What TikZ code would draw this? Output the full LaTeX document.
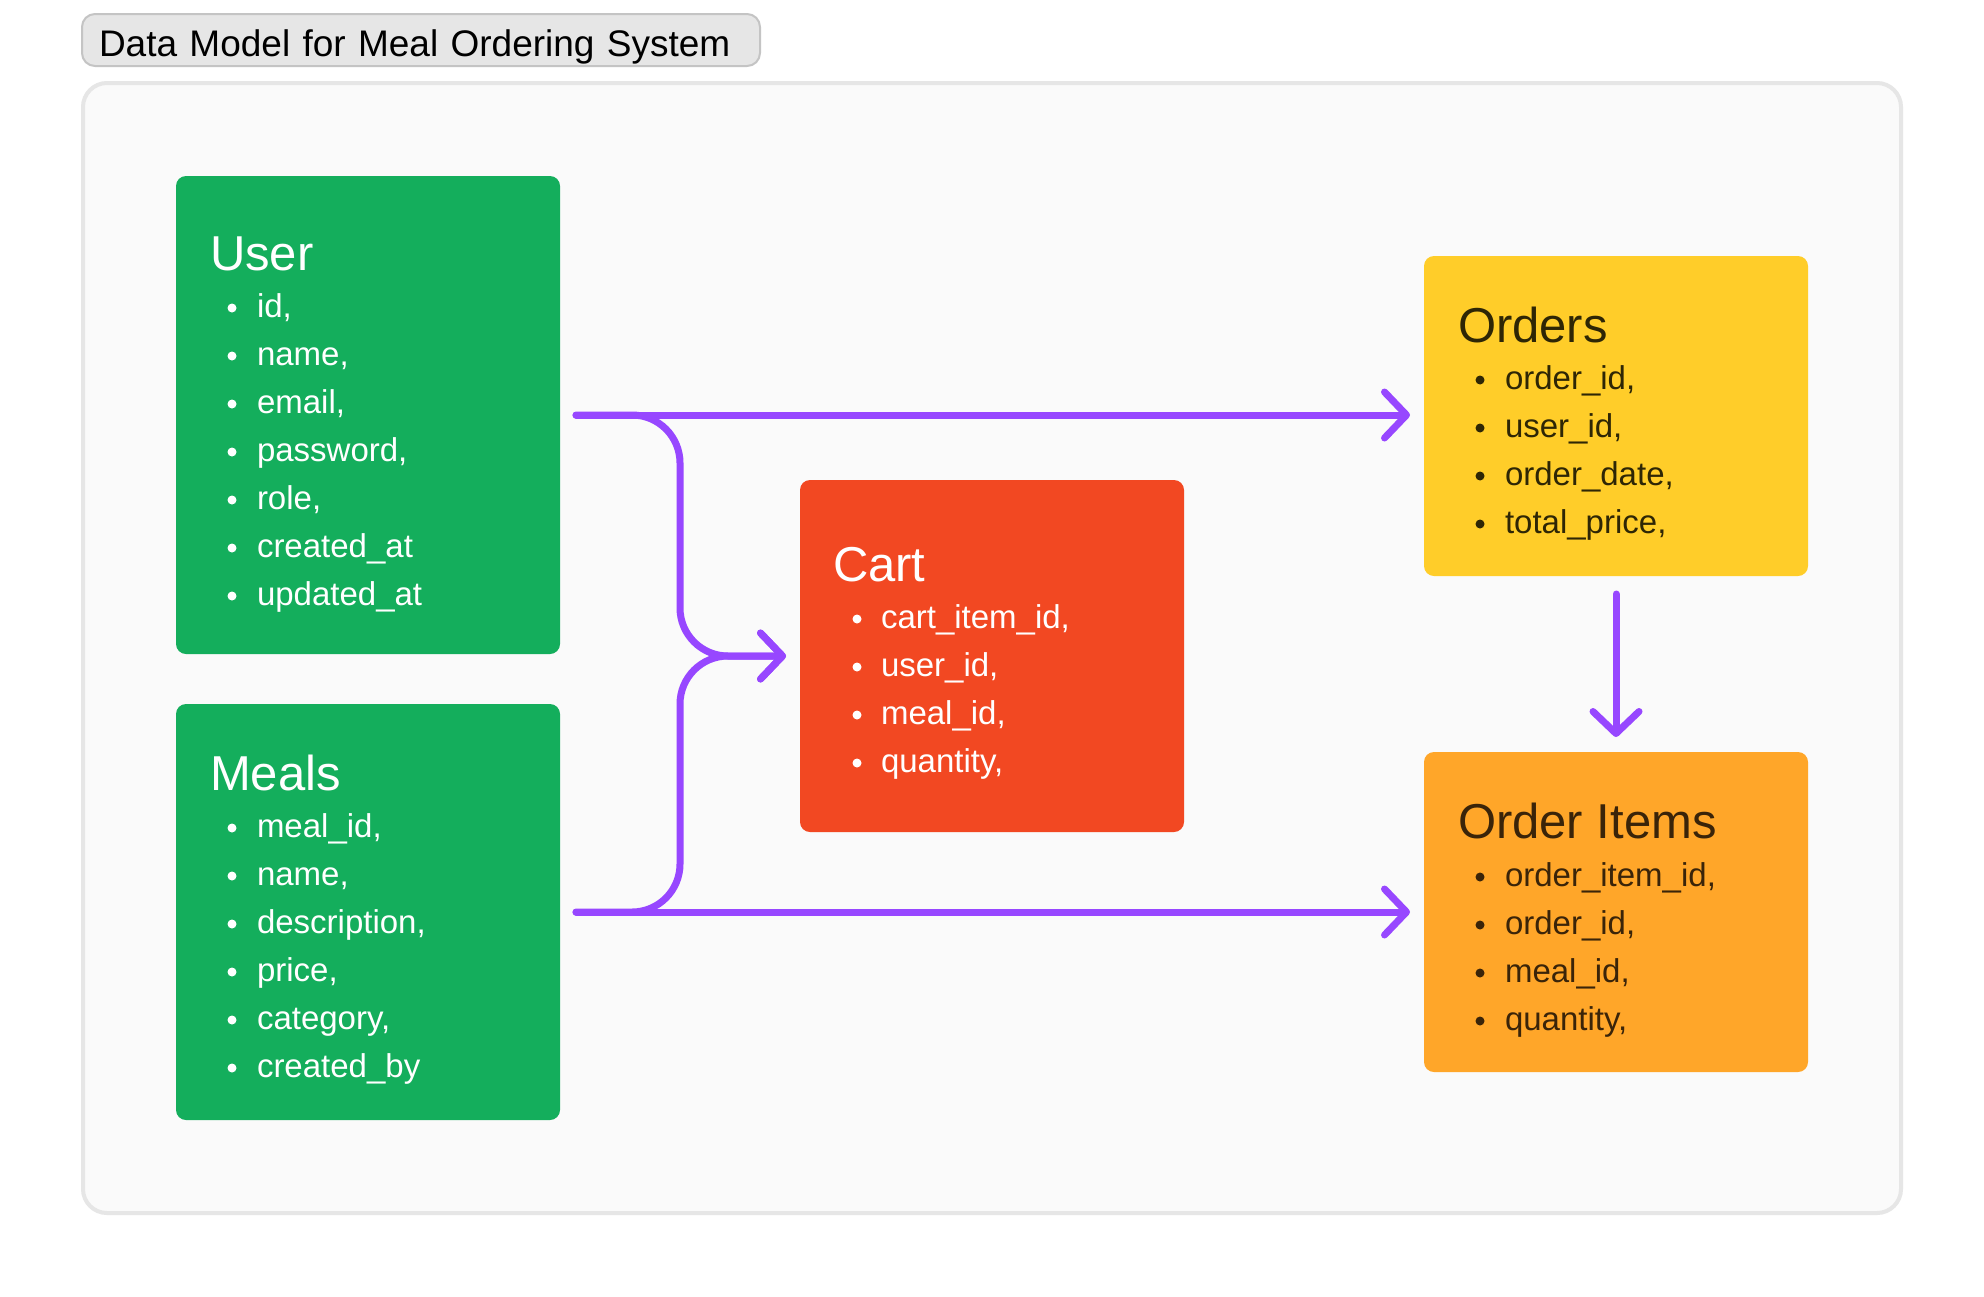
\documentclass[tikz,border=0pt]{standalone}
\usepackage{fontspec}
\setmainfont{Liberation Sans}
\usetikzlibrary{arrows.meta,calc}

\definecolor{usergreen}{HTML}{14AE5C}
\definecolor{cartred}{HTML}{F24822}
\definecolor{orderyellow}{HTML}{FFCD29}
\definecolor{itemorange}{HTML}{FFA629}
\definecolor{linkpurple}{HTML}{9747FF}
\definecolor{ordertext}{HTML}{2E2605}
\definecolor{itemtext}{HTML}{3A2409}
\definecolor{framefill}{HTML}{FAFAFA}
\definecolor{frameline}{HTML}{E6E6E6}
\definecolor{captionfill}{HTML}{E6E6E6}
\definecolor{captionline}{HTML}{C4C4C4}

\begin{document}
\begin{tikzpicture}[
  x = 0.5pt, y = -0.5pt,
  every node/.style = {inner sep = 0pt, outer sep = 0pt},
  entity/.style = {rectangle, rounded corners = 5pt, minimum width = 192pt, anchor = north west},
  heading/.style = {anchor = base west, font = \fontsize{24.5}{29}\selectfont},
  field/.style = {anchor = base west, font = \fontsize{16.5}{20}\selectfont},
  link/.style = {draw = linkpurple, line width = 3.5pt, line cap = round,
                 -{Straight Barb[length = 11pt, width = 23pt, line cap = round, round]}},
  ]
  \fill[white] (0,0) rectangle (1984,1296);
  \useasboundingbox (0,0) rectangle (1984,1296);
  \draw[frameline, fill = framefill, line width = 2pt, rounded corners = 12pt] (83,83) rectangle (1901,1213);
  \node[draw = captionline, fill = captionfill, line width = 1pt, rounded corners = 6.5pt,
        anchor = north west, inner xsep = 8.5pt, text width = 322pt, align = left,
        text height = 21pt, text depth = 5pt, font = \fontsize{18.5}{22}\selectfont]
    (caption) at (82,14) {Data Model for Meal Ordering System};

  \node[entity, fill = usergreen, minimum height = 239pt] (user) at (176,176) {};
  \node[heading, white] (user-title) at ($(user.north west) + (34,94)$) {User};
  \foreach \f [count = \i from 0] in {{id,}, {name,}, {email,}, {password,}, {role,}, {created\_at}, {updated\_at}} {
    \fill[white] ($(user.north west) + (56,{132 + 48*\i})$) circle (2.25pt);
    \node[field, white] (user-\i) at ($(user.north west) + (81,{141 + 48*\i})$) {\f};
  }

  \node[entity, fill = usergreen, minimum height = 208pt] (meals) at (176,704) {};
  \node[heading, white] (meals-title) at ($(meals.north west) + (34,86)$) {Meals};
  \foreach \f [count = \i from 0] in {{meal\_id,}, {name,}, {description,}, {price,}, {category,}, {created\_by}} {
    \fill[white] ($(meals.north west) + (56,{124 + 48*\i})$) circle (2.25pt);
    \node[field, white] (meals-\i) at ($(meals.north west) + (81,{133 + 48*\i})$) {\f};
  }

  \node[entity, fill = cartred, minimum height = 176pt] (cart) at (800,480) {};
  \node[heading, white] (cart-title) at ($(cart.north west) + (33,101)$) {Cart};
  \foreach \f [count = \i from 0] in {{cart\_item\_id,}, {user\_id,}, {meal\_id,}, {quantity,}} {
    \fill[white] ($(cart.north west) + (57,{139 + 48*\i})$) circle (2.25pt);
    \node[field, white] (cart-\i) at ($(cart.north west) + (81,{148 + 48*\i})$) {\f};
  }

  \node[entity, fill = orderyellow, minimum height = 160pt] (orders) at (1424,256) {};
  \node[heading, ordertext] (orders-title) at ($(orders.north west) + (34,86)$) {Orders};
  \foreach \f [count = \i from 0] in {{order\_id,}, {user\_id,}, {order\_date,}, {total\_price,}} {
    \fill[ordertext] ($(orders.north west) + (56,{124 + 48*\i})$) circle (2.25pt);
    \node[field, ordertext] (orders-\i) at ($(orders.north west) + (81,{133 + 48*\i})$) {\f};
  }

  \node[entity, fill = itemorange, minimum height = 160pt] (items) at (1424,752) {};
  \node[heading, itemtext] (items-title) at ($(items.north west) + (34,86)$) {Order Items};
  \foreach \f [count = \i from 0] in {{order\_item\_id,}, {order\_id,}, {meal\_id,}, {quantity,}} {
    \fill[itemtext] ($(items.north west) + (56,{125 + 48*\i})$) circle (2.25pt);
    \node[field, itemtext] (items-\i) at ($(items.north west) + (81,{134 + 48*\i})$) {\f};
  }

  \draw[link] ([xshift = 8pt]user.east) -- ([xshift = -7pt]user.east -| orders.west);
  \draw[link] ([xshift = 8pt]meals.east) -- ([xshift = -7pt]meals.east -| items.west);
  \draw[link, rounded corners = 24pt] ([xshift = 8pt]user.east) -| ($(user.east)!.5!(cart.west)$) |- ([xshift = -7pt]cart.west);
  \draw[link, rounded corners = 24pt] ([xshift = 8pt]meals.east) -| ($(meals.east)!.5!(cart.west)$) |- ([xshift = -7pt]cart.west);
  \draw[link] ([yshift = -9pt]orders.south) -- ([yshift = 7.5pt]items.north);
\end{tikzpicture}
\end{document}
